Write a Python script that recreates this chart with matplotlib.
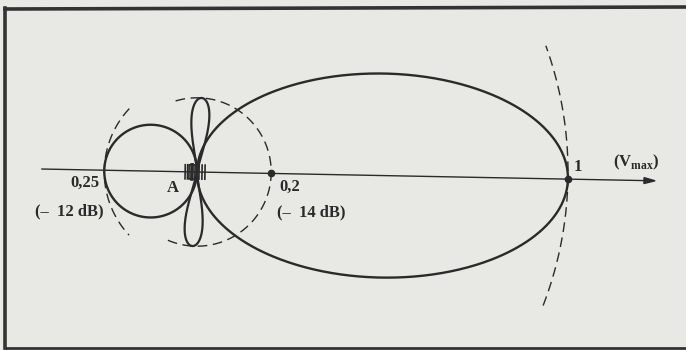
import numpy as np
import matplotlib
matplotlib.use("Agg")
import matplotlib.pyplot as plt
from matplotlib.transforms import Affine2D
from matplotlib.lines import Line2D
from matplotlib.patches import Polygon, Rectangle

plt.rcParams['font.family'] = ['Liberation Serif', 'DejaVu Serif']
plt.rcParams['mathtext.fontset'] = 'custom'
plt.rcParams['mathtext.rm'] = 'Liberation Serif:bold'
plt.rcParams['mathtext.bf'] = 'Liberation Serif:bold'

# ---- pattern values (relative field strength, V / Vmax) ----
main_lobe_level = 1.0          # forward maximum
main_lobe_halfwidth = 0.275    # half-width of the forward lobe
back_lobe_level = 0.25         # -12 dB
side_lobe_level = 0.2          # -14 dB
side_lobe_dirs = [87.5, 267.5]  # directions of the two side lobes (deg)
level_values = [0.25, 0.2, 1.0]
level_labels = ['0,25', '0,2', '1']
db_labels = ['(–  12 dB)', '(–  14 dB)']

INK = '#2a2a2a'
BG = '#e8e8e4'

fig = plt.figure(figsize=(6.86, 3.5), dpi=100)
fig.patch.set_facecolor(BG)
ax = fig.add_axes([0, 0, 1, 1])
ax.set_facecolor(BG)
ax.axis('off')

# origin of the pattern and pixels per unit of field strength
ox, oy, scale = 197.0, 172.0, 371.0
ax.set_xlim(-ox / scale, (686 - ox) / scale)
ax.set_ylim(-(350 - oy) / scale, oy / scale)

# the whole pattern is drawn slightly tilted
rot = Affine2D().rotate_deg(-1.1) + ax.transData

t = np.linspace(0, 2 * np.pi, 500)

# forward lobe
a = main_lobe_level / 2
ax.plot(a + a * np.cos(t), main_lobe_halfwidth * np.sin(t),
        color=INK, lw=1.7, transform=rot)

# back lobe
b = back_lobe_level / 2
ax.plot(-b + b * np.cos(t), b * np.sin(t), color=INK, lw=1.7, transform=rot)

# side lobes (narrow petals)
sp = np.linspace(0, 1, 300)
w = sp ** 1.3 * np.sqrt(1 - sp)
w = w / w.max() * 0.024
for d in side_lobe_dirs:
    u = np.concatenate([sp, sp[::-1]]) * side_lobe_level
    v = np.concatenate([w, -w[::-1]])
    ang = np.deg2rad(d)
    px = u * np.cos(ang) - v * np.sin(ang)
    py = u * np.sin(ang) + v * np.cos(ang)
    ax.plot(px, py, color=INK, lw=1.6, transform=rot)

# dashed reference circles
def arc(r, a0, a1):
    th = np.deg2rad(np.linspace(a0, a1, 300))
    ax.plot(r * np.cos(th), r * np.sin(th), color=INK, lw=1.0,
            linestyle=(0, (7, 4)), transform=rot)

arc(side_lobe_level, -112, 108)
arc(back_lobe_level, 138, 224)
arc(main_lobe_level, -20, 21)

# axis with arrow
x0, x1 = -0.418, 1.235
ax.plot([x0, x1 - 0.02], [0, 0], color=INK, lw=1.0, transform=rot)
ax.add_patch(Polygon([[x1, 0], [x1 - 0.03, 0.008], [x1 - 0.03, -0.008]],
                     closed=True, color=INK, transform=rot))

# marked points
ax.plot([level_values[1], level_values[2]], [0, 0], 'o', color=INK,
        ms=4.5, transform=rot)

# antenna elements at A
h = 0.019
for xe in [-0.032, -0.0255, 0.0055, 0.0135, 0.0215]:
    ax.plot([xe, xe], [-h, h], color=INK, lw=1.2, transform=rot)
ax.add_patch(Rectangle((-0.0215, -h), 0.016, 2 * h, fill=False,
                       edgecolor=INK, lw=1.2, transform=rot))
ax.plot([-0.0135, -0.0135], [-h, h], color=INK, lw=2.6, transform=rot)

# labels
font = dict(fontweight='bold', fontsize=12, color=INK,
            ha='center', va='center')
ax.text(-0.302, -0.030, level_labels[0], **font)
ax.text(-0.343, -0.105, db_labels[0], **font)
ax.text(-0.065, -0.042, 'A', **font)
ax.text(0.249, -0.040, level_labels[1], **font)
ax.text(0.307, -0.109, db_labels[1], **font)
ax.text(1.027, 0.013, level_labels[2], **font)
ax.text(1.183, 0.026, r'(V$_{\mathbf{max}}$)', **font)

# frame
for xs, ys, lw in [([5, 686], [9, 7], 2.6),
                   ([5, 5], [8, 348], 2.6),
                   ([5, 686], [348, 348], 2.0)]:
    fig.add_artist(Line2D([x / 686 for x in xs], [1 - y / 350 for y in ys],
                          color='#333333', lw=lw,
                          transform=fig.transFigure))

fig.savefig('out.png', dpi=100, facecolor=BG)
